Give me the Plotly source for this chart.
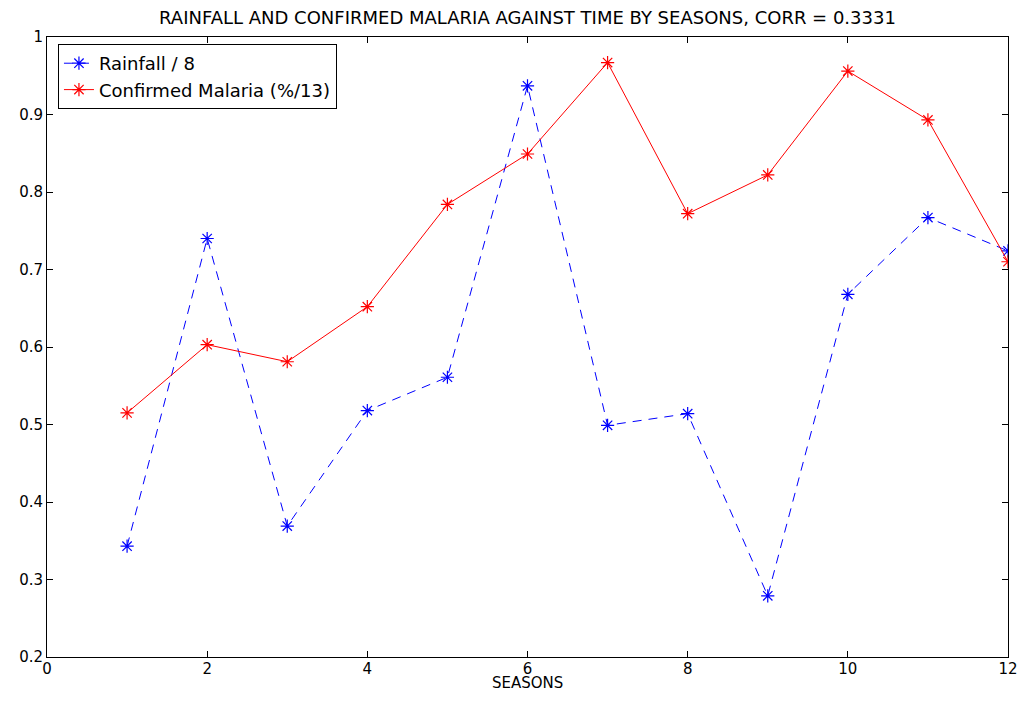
import plotly.graph_objects as go

seasons = [1, 2, 3, 4, 5, 6, 7, 8, 9, 10, 11, 12]
rainfall_over_8 = [0.343, 0.740, 0.369, 0.518, 0.561, 0.937, 0.499, 0.514, 0.279, 0.668, 0.767, 0.724]
malaria_over_13 = [0.515, 0.603, 0.581, 0.652, 0.784, 0.849, 0.967, 0.772, 0.822, 0.956, 0.893, 0.710]

x_ticks = [0, 2, 4, 6, 8, 10, 12]
y_ticks = [0.2, 0.3, 0.4, 0.5, 0.6, 0.7, 0.8, 0.9, 1.0]
y_tick_labels = ["0.2", "0.3", "0.4", "0.5", "0.6", "0.7", "0.8", "0.9", "1"]

FONT = "DejaVu Sans, Verdana, sans-serif"
W, H = 1010, 685

fig = go.Figure()
fig.add_trace(go.Scatter(
    x=seasons, y=rainfall_over_8, mode="lines+markers", name="Rainfall / 8",
    line=dict(color="#0000ff", width=1, dash="9px,7px"),
    marker=dict(symbol="asterisk-open", size=11, color="#0000ff", line=dict(width=1.2, color="#0000ff")),
))
fig.add_trace(go.Scatter(
    x=seasons, y=malaria_over_13, mode="lines+markers", name="Confirmed Malaria (%/13)",
    line=dict(color="#ff0000", width=1),
    marker=dict(symbol="asterisk-open", size=11, color="#ff0000", line=dict(width=1.2, color="#ff0000")),
))

axis_common = dict(
    showgrid=False, zeroline=False, showline=True, linecolor="black", linewidth=1,
    mirror="ticks", ticks="inside", ticklen=6, tickcolor="black", automargin=False,
    ticklabeloverflow="allow",
    tickfont=dict(family=FONT, size=15, color="black"),
)

fig.update_layout(
    width=W, height=H,
    margin=dict(l=39, r=10, t=29, b=36),
    paper_bgcolor="white", plot_bgcolor="white",
    font=dict(family=FONT, size=15, color="black"),
    title=dict(text="RAINFALL AND CONFIRMED MALARIA AGAINST TIME BY SEASONS, CORR = 0.3331",
               x=0.5, xanchor="center", xref="paper", yref="container",
               y=1 - 9.5 / H, yanchor="middle",
               font=dict(family=FONT, size=18, color="black")),
    xaxis=dict(range=[0, 12], tickvals=x_ticks, ticklabelstandoff=-2, **axis_common),
    yaxis=dict(range=[0.2, 1.0], tickvals=y_ticks, ticktext=y_tick_labels, **axis_common),
    showlegend=True,
    legend=dict(x=0.0114, y=0.9887, xanchor="left", yanchor="top",
                bordercolor="black", borderwidth=1, bgcolor="white",
                font=dict(family=FONT, size=18), tracegroupgap=0),
    annotations=[dict(text="SEASONS", xref="paper", yref="paper", x=0.5, y=0,
                      xanchor="center", yanchor="middle", yshift=-26, showarrow=False,
                      borderpad=0,
                      font=dict(family=FONT, size=15, color="black"))],
)

fig.write_html("out.html")
